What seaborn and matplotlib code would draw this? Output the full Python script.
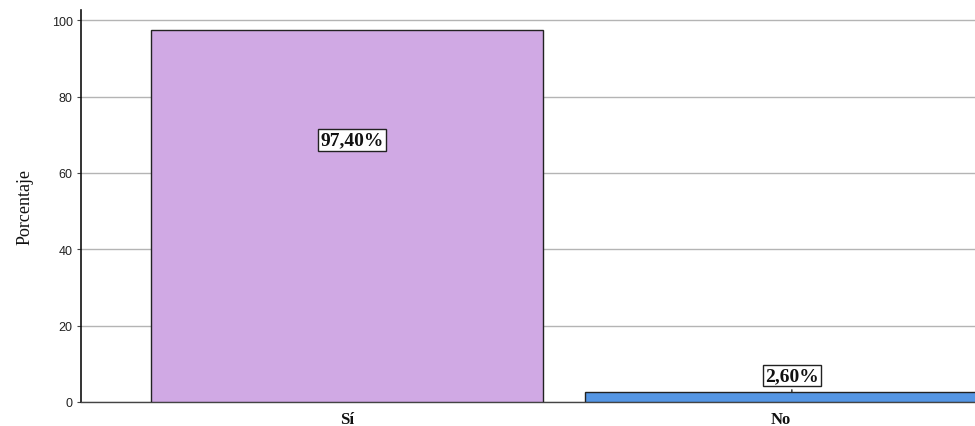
import matplotlib
matplotlib.use("Agg")
import matplotlib.pyplot as plt
import seaborn as sns
import pandas as pd

categories = ["Sí", "No"]
percentages = [97.40, 2.60]
value_labels = ["97,40%", "2,60%"]
bar_colors = ["#D0A9E4", "#5596E4"]
y_ticks = [0, 20, 40, 60, 80, 100]
y_label = "Porcentaje"

df = pd.DataFrame({"cat": categories, "pct": percentages})

sns.set_theme(style="white")
fig = plt.figure(figsize=(9.75, 4.27), dpi=100)
ax = fig.add_axes([81 / 975, 24 / 427, 1 - 81 / 975, (403 - 11) / 427])

sns.barplot(data=df, x="cat", y="pct", hue="cat", palette=bar_colors, saturation=1,
            order=categories, hue_order=categories, legend=False,
            width=0.903, edgecolor="#222222", linewidth=1.0, ax=ax, zorder=3)

ax.set_ylim(0, 102.7)
ax.set_xlim(-0.613, 1.447)
ax.set_yticks(y_ticks)
ax.yaxis.grid(True, color="#b4b4b4", linewidth=1.0, zorder=0)
ax.xaxis.grid(False)
ax.set_axisbelow(True)
for s in ["top", "right"]:
    ax.spines[s].set_visible(False)
ax.spines["left"].set_color("#111111")
ax.spines["left"].set_linewidth(1.2)
ax.spines["bottom"].set_color("#444444")
ax.spines["bottom"].set_linewidth(1.0)

ax.tick_params(axis="y", which="both", left=True, length=3, width=0.8, color="#444444",
               labelsize=9, labelcolor="#222222", pad=3)
ax.tick_params(axis="x", bottom=False, pad=0.5)
for lab in ax.get_yticklabels():
    lab.set_fontfamily("Liberation Sans")
for lab in ax.get_xticklabels():
    lab.set_fontfamily("Liberation Serif")
    lab.set_fontsize(12)
    lab.set_fontweight("bold")
    lab.set_color("#111111")

ax.set_xlabel("")
ax.set_ylabel(y_label, fontfamily="Liberation Serif", fontsize=13, color="#111111", labelpad=13)

bbox = dict(boxstyle="square,pad=0.12", facecolor="white", edgecolor="#222222", linewidth=1.0)
for i, (v, t) in enumerate(zip(percentages, value_labels)):
    if v > 20:
        ax.text(i + 0.012, v * 0.705, t, ha="center", va="center", fontfamily="Liberation Serif",
                fontsize=14, fontweight="bold", color="#111111", bbox=bbox, zorder=5)
    else:
        ax.annotate(t, xy=(i + 0.025, v), xytext=(i + 0.025, v + 4.3), ha="center", va="center",
                    fontfamily="Liberation Serif", fontsize=14, fontweight="bold", color="#111111",
                    bbox=bbox, zorder=5,
                    arrowprops=dict(arrowstyle="-", color="#222222", lw=1.0))

fig.savefig("out.png", dpi=100)
